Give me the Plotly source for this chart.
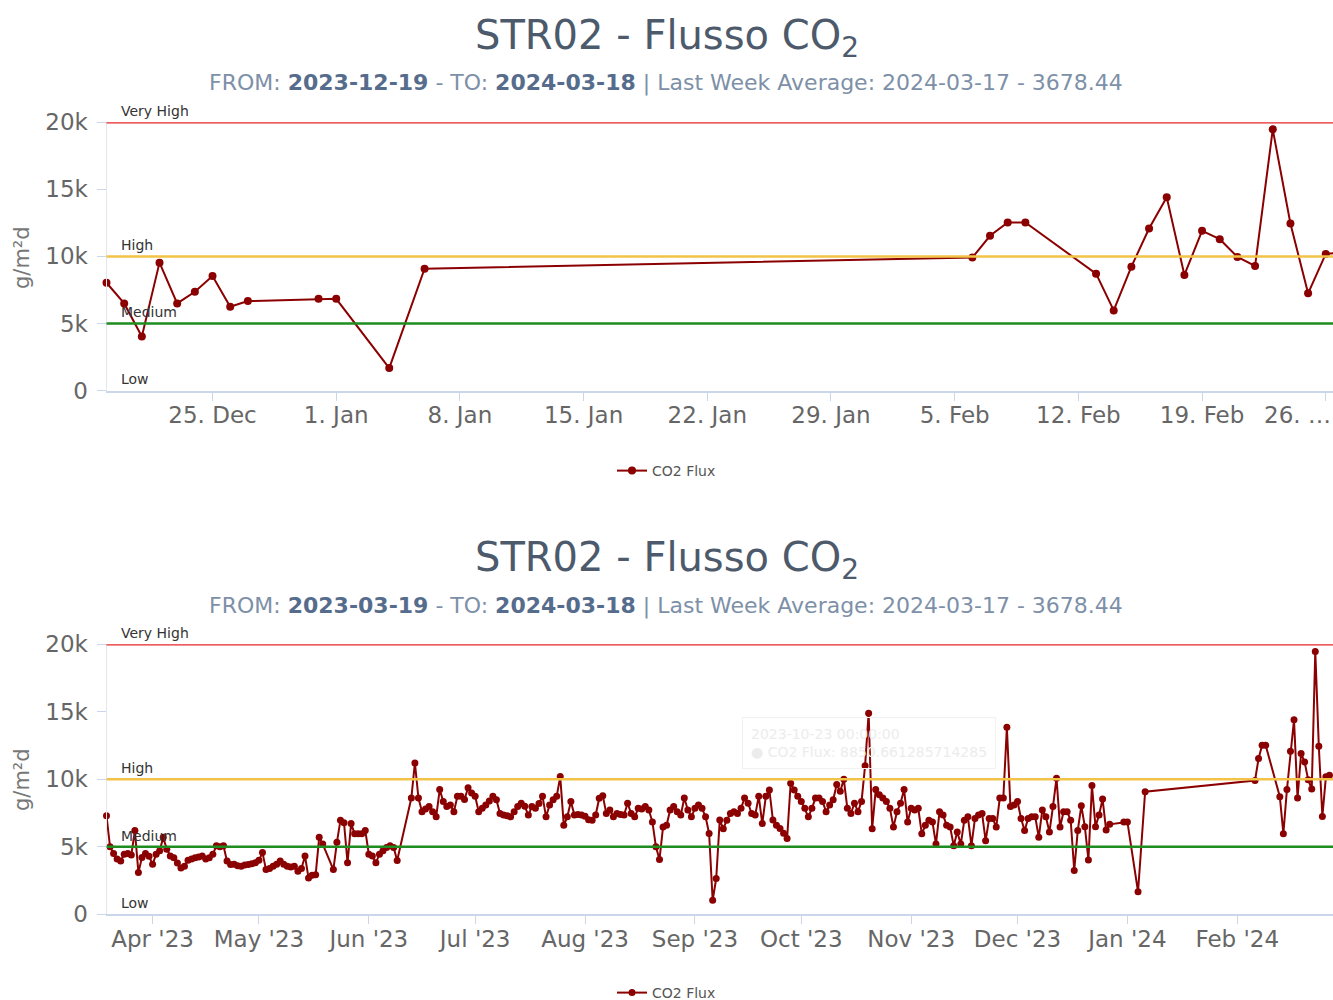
import pandas as pd
import plotly.graph_objects as go

# ---------------- data ----------------
mar_2023 = [7300, 5000, 4500, 4100, 3950, 4450, 4500, 4400, 6200, 3100, 4200, 4500, 4300]
apr_2023 = [3700, 4450, 4700, 5700, 4820, 4320, 4190, 3800, 3430, 3560, 4000, 4100, 4190, 4250, 4320,
            4100, 4190, 4440, 5080, 5000, 5080, 3940, 3690, 3700, 3600, 3560, 3650, 3690, 3750, 3810]
may_2023 = [4000, 4570, 3310, 3400, 3560, 3700, 3940, 3700, 3560, 3500, 3560, 3180, 3400, 4320, 2680,
            2900, 2930, 5700, 5200, None, None, 3310, 5330, 6970, 6780, 3810, 6720, 5960, 5960, 5960, 6210]
jun_2023 = [4450, 4320, 3810, 4450, 4700, 4950, 5080, 4950, 3990, None, None, None, 8610, 11210, 8610,
            7600, 7800, 7980, 7600, 7220, 9240, 8360, 7980, 8100, 7600, 8740, 8740, 8500, 9370, 8990]
jul_2023 = [8740, 7600, 7850, 8100, 8400, 8740, 8480, 7470, 7350, 7300, 7220, 7600, 7980, 8230, 8000,
            7350, 7980, 7850, 8200, 8740, 7220, 8100, 8480, 8740, 10200, 6590, 7220, 8360, 7350, 7400, 7350]
aug_2023 = [7270, 7000, 6970, 7350, 8600, 8790, 7470, 7730, 7220, 7470, 7400, 7350, 8230, 7470, 7220,
            7850, 7800, 7980, 7730, 6840, 5000, 4060, 6460, 6590, 7730, 7980, 7600, 7350, 8610, 7730, 7220]
sep_2023 = [7850, 8100, 7850, 7220, 5990, 1040, 2650, 6980, 6340, 6970, 7470, 7600, 7470, 7850, 8610,
            8230, 7470, 7350, 8740, 6720, 8740, 9200, 6980, 6600, 6360, 6000, 5620, 9700, 9200, 8740]
oct_2023 = [8360, 7850, 7220, 7850, 8610, 8610, 8360, 7600, 8100, 8480, 9620, 9120, 10000, 7850, 7470,
            8230, 7600, 8360, 11010, 14900, 6340, 9240, 8850.66, 8610, 8360, 7850, 6460, 7600, 8230, 9240, 6840]
nov_2023 = [7850, 7730, 7850, 5960, 6590, 6970, 6840, 5200, 7600, 7350, 6590, 6460, 5080, 6090, 5200,
            6970, 7220, 5080, 7100, 7350, 7470, 5450, 7100, 7100, 6460, 8610, 8610, 13850, 7980, 8100]
dec_2023 = [8360, 7100, 6210, 7100, 7220, 7220, 5700, 7730, 7220, 6090, 7980, 10080, 6460, 7600, 7600,
            6970, 3250, 6210, 8037, 6494, 4022, 9535, 6494, 7363, 8539, 6240, 6666]
later_dates = ["2023-12-31", "2024-01-01", "2024-01-04", "2024-01-06",
               "2024-02-06", "2024-02-07", "2024-02-08", "2024-02-09",
               "2024-02-13", "2024-02-14", "2024-02-15", "2024-02-16", "2024-02-17",
               "2024-02-18", "2024-02-19", "2024-02-20", "2024-02-21", "2024-02-22",
               "2024-02-23", "2024-02-24", "2024-02-25", "2024-02-26", "2024-02-27"]
later_values = [6839, 6839, 1670, 9086,
                9910, 11535, 12531, 12531,
                8711, 5970, 9236, 12083, 14405,
                8614, 11909, 11284, 9960, 9288,
                19474, 12456, 7243, 10185, 10300]

month_starts = ["2023-03-19", "2023-04-01", "2023-05-01", "2023-06-01", "2023-07-01", "2023-08-01",
                "2023-09-01", "2023-10-01", "2023-11-01", "2023-12-01"]
month_values = [mar_2023, apr_2023, may_2023, jun_2023, jul_2023, aug_2023,
                sep_2023, oct_2023, nov_2023, dec_2023]

thresholds = [20000, 10000, 5000, 0]
threshold_labels = ["Very High", "High", "Medium", "Low"]
threshold_colors = ["#e8262b", "#f2c347", "#1e8c1e", None]

y_tickvals = [0, 5000, 10000, 15000, 20000]
y_ticktext = ["0", "5k", "10k", "15k", "20k"]

top_tick_dates = ["2023-12-25", "2024-01-01", "2024-01-08", "2024-01-15", "2024-01-22",
                  "2024-01-29", "2024-02-05", "2024-02-12", "2024-02-19", "2024-02-26"]
top_tick_labels = ["25. Dec", "1. Jan", "8. Jan", "15. Jan", "22. Jan",
                   "29. Jan", "5. Feb", "12. Feb", "19. Feb", ""]
top_last_label = "26. …"
bot_tick_dates = ["2023-04-01", "2023-05-01", "2023-06-01", "2023-07-01", "2023-08-01", "2023-09-01",
                  "2023-10-01", "2023-11-01", "2023-12-01", "2024-01-01", "2024-02-01"]
bot_tick_labels = ["Apr '23", "May '23", "Jun '23", "Jul '23", "Aug '23", "Sep '23",
                   "Oct '23", "Nov '23", "Dec '23", "Jan '24", "Feb '24"]

title_text = "STR02 - Flusso CO<sub>2</sub>"
top_from, bot_from, to_date = "2023-12-19", "2023-03-19", "2024-03-18"
avg_text = "Last Week Average: 2024-03-17 - 3678.44"
series_name = "CO2 Flux"
tooltip_lines = ["2023-10-23 00:00:00", "● CO2 Flux: 8850.661285714285"]

# ---------------- build series ----------------
dates, values = [], []
for start, vals in zip(month_starts, month_values):
    rng = pd.date_range(start, periods=len(vals), freq="D")
    for d, v in zip(rng, vals):
        if v is not None:
            dates.append(d)
            values.append(v)
for d, v in zip(pd.to_datetime(later_dates), later_values):
    dates.append(d)
    values.append(v)

top_dates = [d for d in dates if d >= pd.Timestamp(top_from)]
top_values = [v for d, v in zip(dates, values) if d >= pd.Timestamp(top_from)]

# ---------------- layout helpers (page pixels -> paper) ----------------
W, H = 1333, 1000
def px(x):
    return x / W
def py(y):
    return 1 - y / H

FONT = "DejaVu Sans"
LINE_RED = "#8b0000"
AX_GRAY = "#ccd6eb"
LBL = "#666666"

fig = go.Figure()
fig.add_trace(go.Scatter(x=top_dates, y=top_values, mode="lines+markers", name=series_name,
                         line=dict(color=LINE_RED, width=2), marker=dict(color=LINE_RED, size=8),
                         cliponaxis=False, xaxis="x", yaxis="y", legend="legend"))
fig.add_trace(go.Scatter(x=dates, y=values, mode="lines+markers", name=series_name,
                         line=dict(color=LINE_RED, width=2), marker=dict(color=LINE_RED, size=7),
                         cliponaxis=False, xaxis="x2", yaxis="y2", legend="legend2"))

xdom = [px(106.5), 1.0]
top_dom = [py(390.5), py(122.3)]
bot_dom = [py(914.3), py(644.3)]

common_x = dict(showgrid=False, zeroline=False, showline=True, linecolor=AX_GRAY, linewidth=2,
                ticks="outside", ticklen=8, tickcolor=AX_GRAY, tickwidth=1, automargin=False,
                ticklabelstandoff=-5,
                tickfont=dict(family=FONT, size=23, color=LBL))
common_y = dict(showgrid=False, zeroline=False, showline=True, linecolor="#e3e7ee", linewidth=1,
                ticks="outside", ticklen=9, tickcolor=AX_GRAY, tickwidth=1, range=[0, 20000],
                tickvals=y_tickvals, ticktext=y_ticktext, ticklabelstandoff=4, automargin=False,
                tickfont=dict(family=FONT, size=23, color=LBL))

fig.update_layout(
    width=W, height=H, margin=dict(l=0, r=0, t=0, b=0, autoexpand=False),
    paper_bgcolor="white", plot_bgcolor="white", showlegend=True,
    xaxis=dict(domain=xdom, anchor="y", type="date", range=["2023-12-19 00:00", "2024-02-26 09:50"],
               tickvals=top_tick_dates, ticktext=top_tick_labels, **common_x),
    yaxis=dict(domain=top_dom, anchor="x", **common_y),
    xaxis2=dict(domain=xdom, anchor="y2", type="date", range=["2023-03-19 00:00", "2024-02-28 00:00"],
                tickvals=bot_tick_dates, ticktext=bot_tick_labels, **common_x),
    yaxis2=dict(domain=bot_dom, anchor="x2", **common_y),
    legend=dict(x=0.5, xanchor="center", y=py(471), yanchor="middle", orientation="h",
                font=dict(family=FONT, size=14, color="#555555"), itemwidth=30, bgcolor="rgba(0,0,0,0)"),
    legend2=dict(x=0.5, xanchor="center", y=py(993), yanchor="middle", orientation="h",
                 font=dict(family=FONT, size=14, color="#555555"), itemwidth=30, bgcolor="rgba(0,0,0,0)"),
)

shapes, annotations = [], []
for yref in ["y", "y2"]:
    xr = "x domain" if yref == "y" else "x2 domain"
    for val, lab, col in zip(thresholds, threshold_labels, threshold_colors):
        if col is not None:
            shapes.append(dict(type="line", xref=xr, x0=0, x1=1, yref=yref, y0=val, y1=val,
                               line=dict(color=col, width=2.5), layer="above"))
        annotations.append(dict(text=lab, xref="paper", x=px(119), xanchor="left",
                                yref=yref, y=val, yanchor="bottom", yshift=1, showarrow=False,
                                font=dict(family=FONT, size=14, color="#333333")))

sub_col, bold_col, title_col = "#7d90a7", "#566c8c", "#4c5a6b"
def subtitle(frm):
    return (f"FROM: <b><span style='color:{bold_col}'>{frm}</span></b> - TO: "
            f"<b><span style='color:{bold_col}'>{to_date}</span></b> | {avg_text}")

for t_y, s_y, frm, plot_mid in [(38, 83, top_from, 258), (560, 606, bot_from, 780)]:
    annotations.append(dict(text=title_text, xref="paper", yref="paper", x=px(666.5), y=py(t_y),
                            xanchor="center", yanchor="middle", showarrow=False,
                            font=dict(family=FONT, size=40, color=title_col)))
    annotations.append(dict(text=subtitle(frm), xref="paper", yref="paper", x=px(666), y=py(s_y),
                            xanchor="center", yanchor="middle", showarrow=False,
                            font=dict(family=FONT, size=22, color=sub_col)))
    annotations.append(dict(text="g/m²d", xref="paper", yref="paper", x=px(22), y=py(plot_mid),
                            xanchor="center", yanchor="middle", textangle=-90, showarrow=False,
                            font=dict(family=FONT, size=21, color="#777777")))

annotations.append(dict(text=top_last_label, xref="paper", yref="paper", x=1.0, y=py(415),
                        xanchor="right", yanchor="middle", showarrow=False,
                        font=dict(family=FONT, size=23, color=LBL)))
annotations.append(dict(text="<br>".join(tooltip_lines), xref="paper", yref="paper", x=px(742), y=py(743),
                        xanchor="left", yanchor="middle", align="left", showarrow=False,
                        bordercolor="#f1f1f1", borderwidth=1, borderpad=8,
                        font=dict(family=FONT, size=14, color="#ececec")))

fig.update_layout(shapes=shapes, annotations=annotations)
fig.write_html("out.html", config={"displayModeBar": False},
               post_script="document.body.style.margin='0px';document.body.style.overflow='hidden';")
